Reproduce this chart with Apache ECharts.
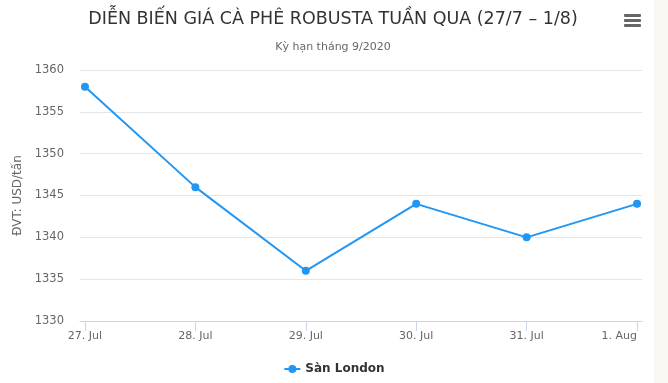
<!DOCTYPE html>
<html><head><meta charset="utf-8">
<script src="https://cdn.jsdelivr.net/npm/echarts@6/dist/echarts.min.js"></script>
<style>html,body{margin:0;padding:0;background:#fff}#c{width:668px;height:383px}</style>
</head><body><div id="c"></div>
<script>
const categories = ['27. Jul','28. Jul','29. Jul','30. Jul','31. Jul','1. Aug'];
const sanLondon = [1358, 1346, 1336, 1344, 1340, 1344];
const yTicks = [1330, 1335, 1340, 1345, 1350, 1355, 1360];
const titleText = 'DIỄN BIẾN GIÁ CÀ PHÊ ROBUSTA TUẦN QUA (27/7 – 1/8)';
const subtitleText = 'Kỳ hạn tháng 9/2020';
const yName = 'ĐVT: USD/tấn';
const seriesName = 'Sàn London';

const font = '"DejaVu Sans", Verdana, sans-serif';
const idx = categories.map((c,i)=>i);
const chart = echarts.init(document.getElementById('c'), null, {renderer:'canvas'});
chart.setOption({
  backgroundColor:'#ffffff',
  animation:false,
  textStyle:{fontFamily:font},
  title:{
    text:titleText, subtext:subtitleText, left:328, textAlign:'center', top:5, itemGap:14,
    textStyle:{fontFamily:font, fontSize:17.5, fontWeight:'normal', color:'#333333'},
    subtextStyle:{fontFamily:font, fontSize:11, color:'#666666'}
  },
  grid:{left:80, right:26, top:70, bottom:62},
  legend:{
    data:[seriesName], bottom:3, left:'center',
    itemWidth:16, itemHeight:10,
    textStyle:{fontFamily:font, fontSize:12, fontWeight:'bold', color:'#333333'}
  },
  xAxis:{
    type:'value', min:-0.045, max:5.045,
    axisLine:{show:true, lineStyle:{color:'#ccd6eb', width:1}},
    axisTick:{show:true, inside:false, customValues:idx, length:10, lineStyle:{color:'#ccd6eb'}},
    axisLabel:{customValues:idx, formatter:v=>categories[Math.round(v)], color:'#666666', fontSize:11, margin:10, fontFamily:font, alignMaxLabel:'right'},
    splitLine:{show:false}
  },
  yAxis:{
    type:'value', min:yTicks[0], max:yTicks[yTicks.length-1], interval:5,
    name:yName, nameLocation:'middle', nameGap:53, nameRotate:90,
    nameTextStyle:{color:'#666666', fontSize:12, fontFamily:font},
    axisLine:{show:false}, axisTick:{show:false},
    axisLabel:{color:'#666666', fontSize:11.5, margin:16, fontFamily:font, formatter:v=>String(v)},
    splitLine:{lineStyle:{color:'#e6e6e6', width:1}}
  },
  series:[{
    name:seriesName, type:'line',
    data:sanLondon.map((v,i)=>[i,v]),
    symbol:'circle', symbolSize:8,
    lineStyle:{color:'#2196f3', width:2},
    itemStyle:{color:'#2196f3'}
  }],
  graphic:[
    {type:'rect', shape:{x:654,y:0,width:14,height:383}, style:{fill:'#f9f8f3'}},
    {type:'rect', shape:{x:624,y:14,width:17,height:3, r:1}, style:{fill:'#666666'}},
    {type:'rect', shape:{x:624,y:19,width:17,height:3, r:1}, style:{fill:'#666666'}},
    {type:'rect', shape:{x:624,y:24,width:17,height:3, r:1}, style:{fill:'#666666'}}
  ]
});
</script></body></html>
